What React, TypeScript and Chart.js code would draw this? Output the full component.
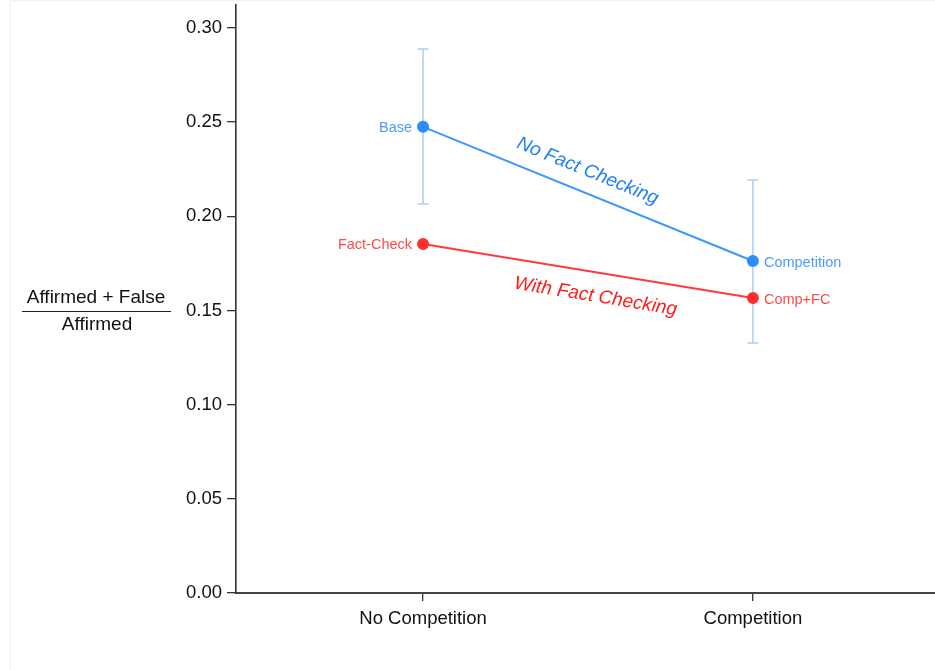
import React, { useEffect, useRef } from "react";
import { Chart, registerables } from "chart.js";

Chart.register(...registerables);

const categories = ["No Competition", "Competition"];
const noFactChecking = [0.2475, 0.1763];
const withFactChecking = [0.1853, 0.1566];
const noFactLow = [0.2065, 0.1328];
const noFactHigh = [0.2889, 0.2193];
const noFactPointLabels = ["Base", "Competition"];
const withFactPointLabels = ["Fact-Check", "Comp+FC"];
const yTicks = [0, 0.05, 0.1, 0.15, 0.2, 0.25, 0.3];
const seriesNames = ["No Fact Checking", "With Fact Checking"];

const FONT = "'Liberation Sans', Arial, sans-serif";
const BLUE = "#3a98ff";
const BLUE_PT = "#2b8cff";
const BLUE_TXT = "#1f7fff";
const BLUE_LBL = "#4d9aff";
const ERR = "rgba(90,160,240,0.5)";
const RED = "#ff3a3a";
const RED_PT = "#ff2e2e";
const RED_TXT = "#ff1a1a";
const RED_LBL = "#ff4a4a";

const overlay = {
  id: "overlay",
  beforeDraw(chart: any) {
    const ctx = chart.ctx;
    ctx.save();
    ctx.strokeStyle = "#f0f0f0";
    ctx.lineWidth = 1;
    ctx.beginPath();
    ctx.moveTo(10.5, 670);
    ctx.lineTo(10.5, 0.5);
    ctx.lineTo(935, 0.5);
    ctx.stroke();
    ctx.restore();
  },
  beforeDatasetsDraw(chart: any) {
    const ctx = chart.ctx;
    const xs = chart.scales.x;
    const ys = chart.scales.y;
    ctx.save();
    ctx.strokeStyle = ERR;
    ctx.lineWidth = 1.5;
    for (let i = 0; i < categories.length; i++) {
      const x = xs.getPixelForValue(i);
      const yl = ys.getPixelForValue(noFactLow[i]);
      const yh = ys.getPixelForValue(noFactHigh[i]);
      ctx.beginPath();
      ctx.moveTo(x, yl);
      ctx.lineTo(x, yh);
      ctx.moveTo(x - 5.5, yl);
      ctx.lineTo(x + 5.5, yl);
      ctx.moveTo(x - 5.5, yh);
      ctx.lineTo(x + 5.5, yh);
      ctx.stroke();
    }
    ctx.restore();
  },
  afterDatasetsDraw(chart: any) {
    const ctx = chart.ctx;
    const m0 = chart.getDatasetMeta(0).data;
    const m1 = chart.getDatasetMeta(1).data;
    ctx.save();
    ctx.font = `14.5px ${FONT}`;
    ctx.textBaseline = "middle";
    ctx.fillStyle = BLUE_LBL;
    ctx.textAlign = "right";
    ctx.fillText(noFactPointLabels[0], m0[0].x - 11, m0[0].y + 1);
    ctx.textAlign = "left";
    ctx.fillText(noFactPointLabels[1], m0[1].x + 11, m0[1].y + 2);
    ctx.fillStyle = RED_LBL;
    ctx.textAlign = "right";
    ctx.fillText(withFactPointLabels[0], m1[0].x - 11, m1[0].y + 1);
    ctx.textAlign = "left";
    ctx.fillText(withFactPointLabels[1], m1[1].x + 11, m1[1].y + 2);

    const drawAlong = (pts: any[], text: string, color: string, t: number, offset: number) => {
      const a = Math.atan2(pts[1].y - pts[0].y, pts[1].x - pts[0].x);
      const cx = pts[0].x + (pts[1].x - pts[0].x) * t;
      const cy = pts[0].y + (pts[1].y - pts[0].y) * t;
      ctx.save();
      ctx.translate(cx, cy);
      ctx.rotate(a);
      ctx.font = `italic 19px ${FONT}`;
      ctx.fillStyle = color;
      ctx.textAlign = "center";
      ctx.textBaseline = "middle";
      ctx.fillText(text, 0, offset);
      ctx.restore();
    };
    drawAlong(m0, seriesNames[0], BLUE_TXT, 0.475, -21);
    drawAlong(m1, seriesNames[1], RED_TXT, 0.535, 24);

    ctx.fillStyle = "#111";
    ctx.font = `19px ${FONT}`;
    ctx.textAlign = "center";
    ctx.textBaseline = "middle";
    ctx.fillText("Affirmed + False", 96, 298);
    ctx.fillText("Affirmed", 97, 325);
    ctx.strokeStyle = "#222";
    ctx.lineWidth = 1.2;
    ctx.beginPath();
    ctx.moveTo(22, 311.5);
    ctx.lineTo(171, 311.5);
    ctx.stroke();
    ctx.restore();
  },
};

export default function App() {
  const ref = useRef<HTMLCanvasElement | null>(null);
  useEffect(() => {
    if (!ref.current) return;
    const chart = new Chart(ref.current, {
      type: "line",
      data: {
        datasets: [
          {
            label: seriesNames[0],
            data: noFactChecking.map((v, i) => ({ x: i, y: v })),
            borderColor: BLUE,
            backgroundColor: BLUE_PT,
            pointBackgroundColor: BLUE_PT,
            pointBorderColor: BLUE_PT,
            pointRadius: 5,
            borderWidth: 2,
          },
          {
            label: seriesNames[1],
            data: withFactChecking.map((v, i) => ({ x: i, y: v })),
            borderColor: RED,
            backgroundColor: RED_PT,
            pointBackgroundColor: RED_PT,
            pointBorderColor: RED_PT,
            pointRadius: 5,
            borderWidth: 2,
          },
        ],
      },
      options: {
        responsive: false,
        animation: false,
        layout: { autoPadding: false, padding: { top: 5, left: 0, right: 0, bottom: 0 } },
        plugins: {
          legend: { display: false },
          tooltip: { enabled: false },
        },
        scales: {
          x: {
            type: "linear",
            min: -0.567,
            max: 1.552,
            afterBuildTicks: (s: any) => {
              s.ticks = categories.map((_, i) => ({ value: i }));
            },
            afterFit: (s: any) => {
              s.height = 77;
              s.paddingLeft = 0;
              s.paddingRight = 0;
            },
            ticks: {
              callback: (v: any) => categories[v] ?? "",
              font: { size: 18.5, family: FONT },
              color: "#111",
              padding: 7,
              maxRotation: 0,
            },
            grid: {
              display: true,
              drawOnChartArea: false,
              drawTicks: true,
              tickLength: 8,
              color: "#333",
              lineWidth: 1.3,
            },
            border: { display: true, color: "#444", width: 2 },
          },
          y: {
            type: "linear",
            min: 0,
            max: 0.3122,
            afterBuildTicks: (s: any) => {
              s.ticks = yTicks.map((v) => ({ value: v }));
            },
            afterFit: (s: any) => {
              s.width = 236;
              s.paddingTop = 0;
              s.paddingBottom = 0;
            },
            ticks: {
              callback: (v: any) => Number(v).toFixed(2),
              font: { size: 18.5, family: FONT },
              color: "#111",
              padding: 5,
            },
            grid: {
              display: true,
              drawOnChartArea: false,
              drawTicks: true,
              tickLength: 9,
              color: "#333",
              lineWidth: 1.3,
            },
            border: { display: true, color: "#333", width: 1.6 },
          },
        },
      },
      plugins: [overlay],
    });
    return () => chart.destroy();
  }, []);
  return (
    <div style={{ position: "fixed", left: 0, top: 0, width: 935, height: 670, background: "#fff" }}>
      <canvas ref={ref} width={935} height={670} style={{ width: 935, height: 670 }} />
    </div>
  );
}
